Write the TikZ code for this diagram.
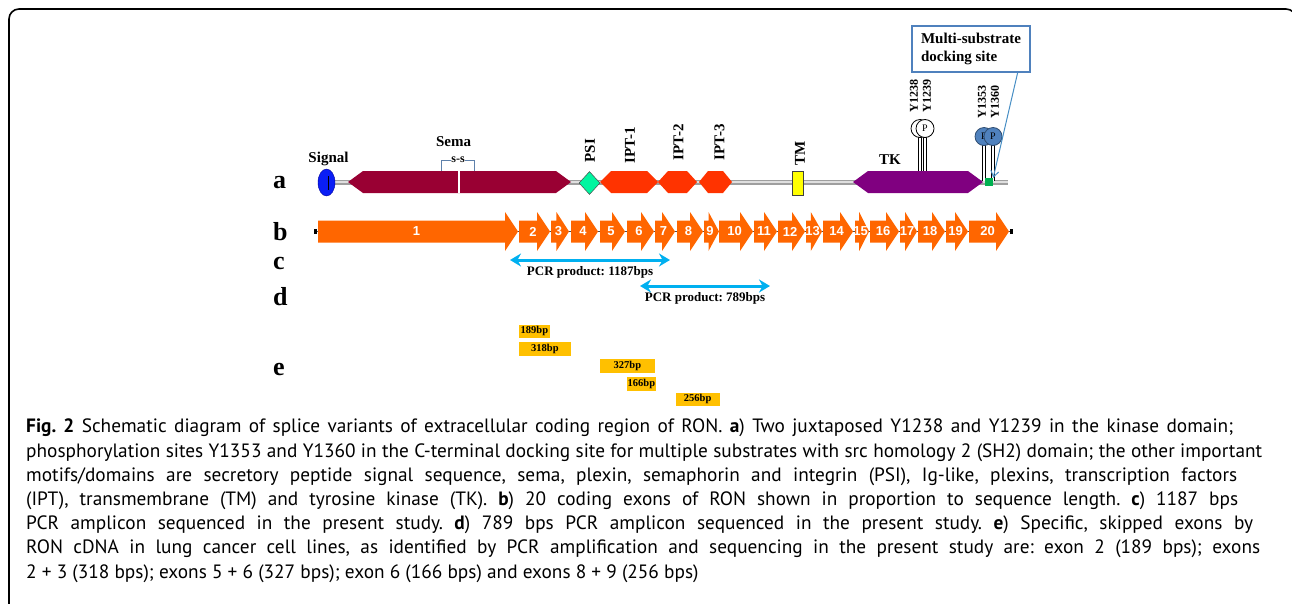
\documentclass[tikz,border=0pt]{standalone}
\usepackage{fontspec}
\setmainfont{Liberation Serif}
\newfontfamily\capfont{PT Sans}
\newfontfamily\exfont{Liberation Sans}
\usepackage{xcolor}
\usetikzlibrary{positioning,shapes.geometric,arrows.meta}

\definecolor{semared}{HTML}{990033}
\definecolor{iptred}{HTML}{FF3300}
\definecolor{tkpurple}{HTML}{800080}
\definecolor{psigreen}{HTML}{00F5A0}
\definecolor{sigblue}{HTML}{0A1EF5}
\definecolor{exorange}{HTML}{FF6600}
\definecolor{pcrcyan}{HTML}{00B0F0}
\definecolor{skipgold}{HTML}{FFC000}
\definecolor{phosblue}{HTML}{4F81BD}
\definecolor{dockgreen}{HTML}{00B050}
\definecolor{tmyellow}{HTML}{FFFF00}

\frenchspacing
\begin{document}
\begin{tikzpicture}[x=1pt,y=-1pt,
				lab/.style={font=\bfseries\fontsize{15}{15}\selectfont,inner sep=0},
				rowlab/.style={font=\bfseries\fontsize{26}{26}\selectfont,anchor=base west,inner sep=0},
				ylab/.style={font=\bfseries\fontsize{12}{12}\selectfont,rotate=90,inner sep=0},
				exnum/.style={text=white,font=\exfont\bfseries\fontsize{13}{13}\selectfont,inner sep=0},
				backbone/.style={draw=gray!75,line width=5},
				exon/.style={fill=exorange},
				phos/.style={circle,draw=black,line width=0.8,fill=white,minimum size=18,inner sep=0,font=\fontsize{10}{10}\selectfont},
				stalk/.style={draw=black,line width=3.4,postaction={draw=white,line width=1.2}},
				pcr/.style={draw=pcrcyan,line width=3,{Stealth[length=11pt,width=13pt]}-{Stealth[length=11pt,width=13pt]}},
				pcrlab/.style={font=\bfseries\fontsize{13}{13}\selectfont,yshift=-12,inner sep=0},
				skipbox/.style={fill=skipgold,anchor=north west,minimum height=13.5,inner sep=0,font=\bfseries\fontsize{10.5}{10.5}\selectfont}]
				
				\useasboundingbox (0,0) rectangle (1292,603);
				\draw[line width=1.6,rounded corners=10] (9,9) rectangle (1296,640);
				
				% Row letters
				\foreach \r/\y in {a/188,b/240,c/269,d/305,e/375}
				\node[rowlab] (row\r) at (273,\y) {\r};
				
				% Protein backbone
				\coordinate (nterm) at (330,182);
				\coordinate (cterm) at (1008,182);
				\draw[backbone] (nterm) -- (cterm);
				\draw[gray!25,line width=1.6] (nterm) -- (cterm);
				
				% Domains
				\foreach \l/\d/\r/\c in {348/15/571/semared,600/11/658/iptred,658/10/697/iptred,699/9/732/iptred,853/15/983/tkpurple}
				\fill[\c] (\l,182) -- ({\l+\d},171) -- ({\r-\d},171) -- (\r,182) -- ({\r-\d},193) -- ({\l+\d},193) -- cycle;
				\draw[white,line width=1.5] (459,163) -- (459,193);
				\draw[phosblue!70!gray,line width=1] (441,171) |- (474,160) -- (474,171);
				\node[fill=white,inner sep=0.3,font=\bfseries\fontsize{12}{12}\selectfont] (ss) at (458,159.5) {s-s};
				\node[ellipse,fill=sigblue,draw=blue!60!black,minimum width=17,minimum height=27,inner sep=0] (sig) at (326.5,182.5) {};
				\draw[black,line width=1] (328,176) -- (328,190);
				\node[diamond,fill=psigreen,draw=gray!60!black,line width=0.5,minimum width=21,minimum height=23,inner sep=0] (psi) at (589.5,183) {};
				\node[draw=gray!50!black,line width=0.7,fill=tmyellow,minimum width=11,minimum height=24,inner sep=0] (tm) at (797.5,183) {};
				
				% Domain labels
				\node[lab] (signal) at (328.5,159) {Signal};
				\node[lab] (sema) at (453.5,142) {Sema};
				\node[lab] (tk) at (890,159.5) {TK};
				\foreach \x/\y/\t in {590/150.5/PSI,630/145/IPT-1,678.5/142/IPT-2,719.5/142.5/IPT-3,800/153.5/TM}
				\node[lab,rotate=90] (l\t) at (\x,\y) {\t};
				
				% Phosphorylation sites
				\foreach \n/\px/\py/\sy in {1238/920/128.5/171,1239/925/128.5/171,1353/984/136.5/181,1360/993/136.5/181}{
					\coordinate (top\n) at (\px,\py);
					\coordinate (foot\n) at (\px,\sy);
					\draw[stalk] (top\n) -- (foot\n);
				}
				\foreach \n in {1238,1239}
				\node[phos] (p\n) at (top\n) {P};
				\foreach \n in {1353,1360}
				\node[phos,fill=phosblue,draw=phosblue!60!black] (p\n) at (top\n) {P};
				\foreach \n/\x/\y in {1238/914/96,1239/927/96,1353/982/102,1360/995/102}
				\node[ylab] (y\n) at (\x,\y) {Y\n};
				\node[fill=dockgreen,minimum size=8,inner sep=0] (site) at (989,182) {};
				\node[draw=phosblue,line width=1.3,minimum width=118,minimum height=46,align=left,inner sep=0,
				font=\bfseries\fontsize{15}{18}\selectfont] (dock) at (971,49) {Multi-substrate\\docking site};
				\draw[phosblue!90!cyan,line width=1,-{Straight Barb[length=6pt,width=8pt]}] ([xshift=-13]dock.south east) -- (site.north east);
				
				% Exons
				\coordinate (bstart) at (315,231.5);
				\coordinate (bend) at (1011,231.5);
				\draw[gray!60!black,line width=1.2] (bstart) -- (bend);
				\foreach \p in {bstart,bend}
				\fill (\p) +(-1.5,-2.5) rectangle +(1.5,2.5);
				\foreach \s/\t [count=\n] in {318/518,519/550,551/569,571/598,600/625,627/654,655/675,677/703,704/719,719/753,
					754/777,778/805,806/822,823/853,855/869,870/899,900/917,918/945,946/968,969/1009}{
					\pgfmathsetmacro\h{min(13,0.7*(\t-\s))}
					\fill[exon] (\s,220.5) -- ({\t-\h},220.5) -- ({\t-\h},212) -- (\t,231.5) -- ({\t-\h},251) -- ({\t-\h},242.5) -- (\s,242.5) -- cycle;
					\node[exnum] (E\n) at ({(\s+\t)/2-1.5},231.5) {\n};
				}
				
				% PCR products
				\coordinate (c1) at (510,260);
				\coordinate (c2) at (670,260);
				\coordinate (d1) at (640,286);
				\coordinate (d2) at (770,286);
				\draw[pcr] (c1) -- node[pcrlab] (pcr1187) {PCR product: 1187bps} (c2);
				\draw[pcr] (d1) -- node[pcrlab] (pcr789) {PCR product: 789bps} (d2);
				
				% Skipped exons
				\foreach \x/\y/\w/\t in {519/324.5/30.5/189,519/342/51.5/318,600/359/54.5/327,627/377/28.5/166,675.5/392.5/44/256}
				\node[skipbox,minimum width=\w] (sk\t) at (\x,\y) {\t bp};
				
				% Caption
				\node[anchor=north west,inner sep=0,align=left,font=\capfont\fontsize{19.3}{24.2}\selectfont] (caption) at (26,419) {%
					\makebox[1207pt][s]{\textbf{Fig.~2} Schematic diagram of splice variants of extracellular coding region of RON. \textbf{a}) Two juxtaposed Y1238 and Y1239 in the kinase domain;}\\
					\makebox[1236pt][s]{phosphorylation sites Y1353 and Y1360 in the C-terminal docking site for multiple substrates with src homology 2 (SH2) domain; the other important}\\
					\makebox[1211pt][s]{motifs/domains are secretory peptide signal sequence, sema, plexin, semaphorin and integrin (PSI), Ig-like, plexins, transcription factors}\\
					\makebox[1212pt][s]{(IPT), transmembrane (TM) and tyrosine kinase (TK). \textbf{b}) 20 coding exons of RON shown in proportion to sequence length. \textbf{c}) 1187 bps}\\
					\makebox[1227pt][s]{PCR amplicon sequenced in the present study. \textbf{d}) 789 bps PCR amplicon sequenced in the present study. \textbf{e}) Specific, skipped exons by}\\
					\makebox[1234pt][s]{RON cDNA in lung cancer cell lines, as identified by PCR amplification and sequencing in the present study are: exon 2 (189 bps); exons}\\
					2 + 3 (318 bps); exons 5 + 6 (327 bps); exon 6 (166 bps) and exons 8 + 9 (256 bps)};
			\end{tikzpicture}
\end{document}
